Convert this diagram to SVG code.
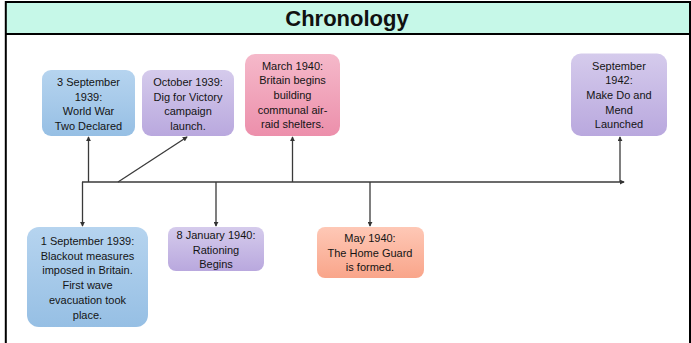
<svg xmlns="http://www.w3.org/2000/svg" width="691" height="343" viewBox="0 0 691 343">
<defs>
<linearGradient id="gBlue" x1="0" y1="0" x2="0" y2="1"><stop offset="0" stop-color="#b6d4ef"/><stop offset="1" stop-color="#96bfe4"/></linearGradient>
<linearGradient id="gPurple" x1="0" y1="0" x2="0" y2="1"><stop offset="0" stop-color="#d5cbec"/><stop offset="1" stop-color="#b9a8de"/></linearGradient>
<linearGradient id="gPink" x1="0" y1="0" x2="0" y2="1"><stop offset="0" stop-color="#f5b9ca"/><stop offset="1" stop-color="#ec8fab"/></linearGradient>
<linearGradient id="gOrange" x1="0" y1="0" x2="0" y2="1"><stop offset="0" stop-color="#fec8b6"/><stop offset="1" stop-color="#f9a58a"/></linearGradient>
<marker id="arr" viewBox="0 0 6 6" refX="5" refY="3" markerWidth="5" markerHeight="5" markerUnits="userSpaceOnUse" orient="auto"><path d="M0,0 L6,3 L0,6 Z" fill="#333"/></marker>
</defs>
<style>
.lbl{font-family:"Liberation Sans",Arial,sans-serif;font-size:11px;fill:#141414;text-anchor:middle}
.title{font-family:"Liberation Sans",Arial,sans-serif;font-size:22px;font-weight:bold;fill:#111;text-anchor:middle}
.conn{stroke:#3a3a3a;stroke-width:1.3;fill:none}
</style>
<rect x="0" y="0" width="691" height="343" fill="#fff"/>
<g id="header">
<rect x="6" y="2" width="684" height="32" fill="#c6f8e8"/>
<line x1="5" y1="2" x2="691" y2="2" stroke="#000" stroke-width="2"/>
<line x1="5" y1="34" x2="691" y2="34" stroke="#000" stroke-width="2"/>
<line x1="5.8" y1="1" x2="5.8" y2="343" stroke="#000" stroke-width="2"/>
<line x1="690" y1="1" x2="690" y2="343" stroke="#000" stroke-width="2"/>
<text class="title" x="347" y="26">Chronology</text>
</g>
<g id="connectors">
<line class="conn" x1="82" y1="182" x2="624" y2="182" marker-end="url(#arr)"/>
<line class="conn" x1="82.5" y1="182" x2="82.5" y2="226" marker-end="url(#arr)"/>
<line class="conn" x1="88.5" y1="182" x2="88.5" y2="137" marker-end="url(#arr)"/>
<line class="conn" x1="118" y1="182" x2="187" y2="137" marker-end="url(#arr)"/>
<line class="conn" x1="216" y1="182" x2="216" y2="226" marker-end="url(#arr)"/>
<line class="conn" x1="292.5" y1="182" x2="292.5" y2="137" marker-end="url(#arr)"/>
<line class="conn" x1="370" y1="182" x2="370" y2="226" marker-end="url(#arr)"/>
<line class="conn" x1="620" y1="182" x2="620" y2="137" marker-end="url(#arr)"/>
</g>
<g id="sep1939">
<rect x="42" y="70" width="93" height="66" rx="9" fill="url(#gBlue)"/>
<text class="lbl" x="88.5" y="86">3 September</text>
<text class="lbl" x="88.5" y="100.5">1939:</text>
<text class="lbl" x="88.5" y="115">World War</text>
<text class="lbl" x="88.5" y="129.5">Two Declared</text>
</g>
<g id="oct1939">
<rect x="142" y="70" width="92" height="66" rx="9" fill="url(#gPurple)"/>
<text class="lbl" x="188" y="86">October  1939:</text>
<text class="lbl" x="188" y="100.5">Dig for Victory</text>
<text class="lbl" x="188" y="115">campaign</text>
<text class="lbl" x="188" y="129.5">launch.</text>
</g>
<g id="mar1940">
<rect x="245" y="54" width="95" height="82" rx="10" fill="url(#gPink)"/>
<text class="lbl" x="292.5" y="69.5">March 1940:</text>
<text class="lbl" x="292.5" y="84">Britain begins</text>
<text class="lbl" x="292.5" y="99">building</text>
<text class="lbl" x="292.5" y="113.5">communal air-</text>
<text class="lbl" x="292.5" y="128">raid shelters.</text>
</g>
<g id="sep1942">
<rect x="571" y="53.5" width="96" height="82.5" rx="10" fill="url(#gPurple)"/>
<text class="lbl" x="619" y="69.5">September</text>
<text class="lbl" x="619" y="84">1942:</text>
<text class="lbl" x="619" y="99">Make Do and</text>
<text class="lbl" x="619" y="113.5">Mend</text>
<text class="lbl" x="619" y="128">Launched</text>
</g>
<g id="sep1939b">
<rect x="27" y="227" width="121" height="100" rx="12" fill="url(#gBlue)"/>
<text class="lbl" x="87.5" y="244.5">1 September 1939:</text>
<text class="lbl" x="87.5" y="259.5">Blackout measures</text>
<text class="lbl" x="87.5" y="274">imposed in Britain.</text>
<text class="lbl" x="87.5" y="289">First wave</text>
<text class="lbl" x="87.5" y="304">evacuation took</text>
<text class="lbl" x="87.5" y="319">place.</text>
</g>
<g id="jan1940">
<rect x="168" y="227" width="96" height="44" rx="8" fill="url(#gPurple)"/>
<text class="lbl" x="216" y="238.5">8 January 1940:</text>
<text class="lbl" x="216" y="253.5">Rationing</text>
<text class="lbl" x="216" y="268">Begins</text>
</g>
<g id="may1940">
<rect x="317" y="227" width="107" height="51" rx="8" fill="url(#gOrange)"/>
<text class="lbl" x="370" y="242">May 1940:</text>
<text class="lbl" x="370" y="256.5">The Home Guard</text>
<text class="lbl" x="370" y="271">is formed.</text>
</g>
</svg>
